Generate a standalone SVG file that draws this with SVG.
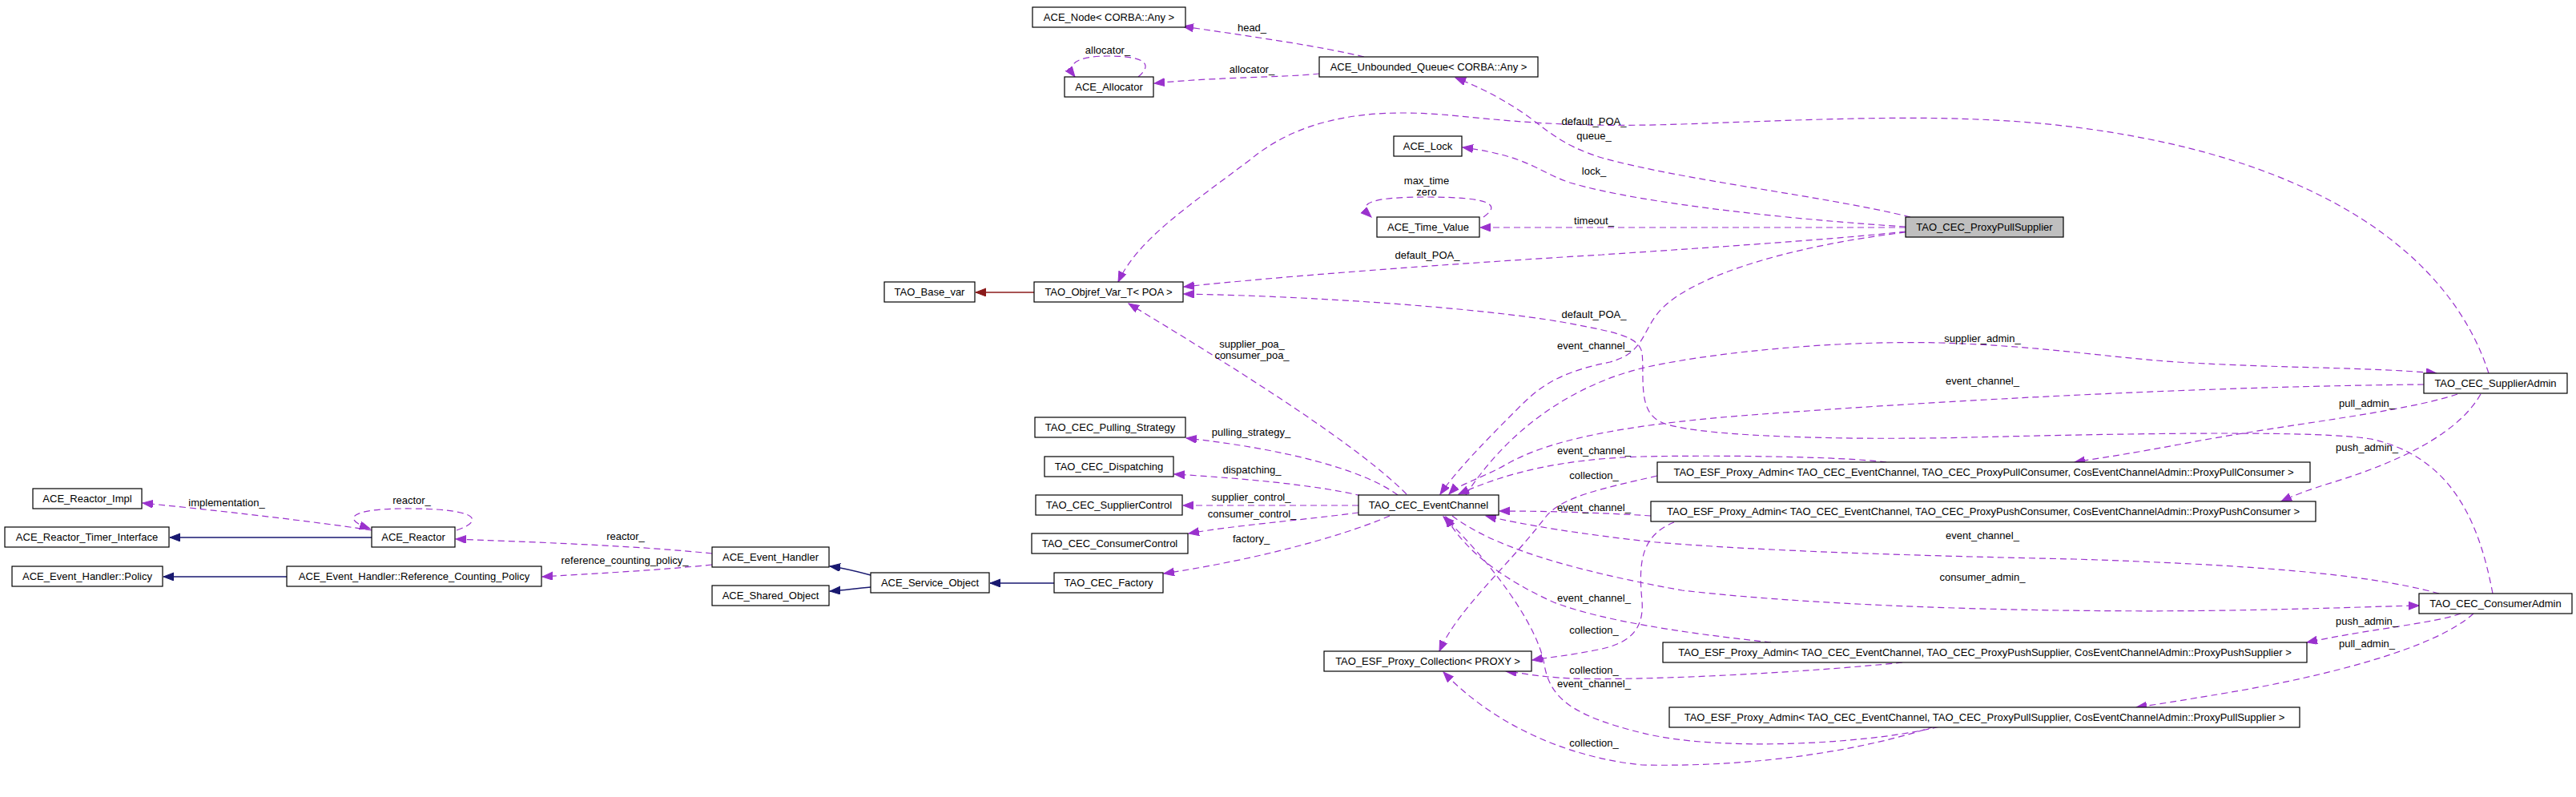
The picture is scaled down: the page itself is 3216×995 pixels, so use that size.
<svg xmlns="http://www.w3.org/2000/svg" width="3216" height="995" viewBox="0 0 3216 995">
<style>
.n rect{fill:#fff;stroke:#000;stroke-width:1.2}
.n.f rect{fill:#bfbfbf}
text{font-family:"Liberation Sans",Arial,Helvetica,sans-serif;font-size:13px;fill:#000}
.n text{text-anchor:middle}
.l text{text-anchor:middle}
.e path{fill:none;stroke:#9a32cd;stroke-width:1.2;stroke-dasharray:8,5}
.e path.u{marker-end:url(#ap)}
.inh path{fill:none;stroke:#191970;stroke-width:1.5;marker-end:url(#an)}
.tpl path{fill:none;stroke:#8b1a1a;stroke-width:1.5;marker-end:url(#ar)}
</style>
<defs>
<marker id="ap" markerUnits="userSpaceOnUse" markerWidth="14" markerHeight="11" refX="13" refY="5" orient="auto"><path d="M0,0 L13,5 L0,10 z" fill="#9a32cd" stroke="#9a32cd" stroke-width="1"/></marker>
<marker id="an" markerUnits="userSpaceOnUse" markerWidth="14" markerHeight="11" refX="13" refY="5" orient="auto"><path d="M0,0 L13,5 L0,10 z" fill="#191970" stroke="#191970" stroke-width="1"/></marker>
<marker id="ar" markerUnits="userSpaceOnUse" markerWidth="14" markerHeight="11" refX="13" refY="5" orient="auto"><path d="M0,0 L13,5 L0,10 z" fill="#8b1a1a" stroke="#8b1a1a" stroke-width="1"/></marker>
</defs>
<rect width="3216" height="995" fill="#fff"/>

<g id="connectors">
<g class="inh">
<path d="M464,671 L212,671"/>
<path d="M358,720 L204,720"/>
<path d="M1087,718 C1065,712 1052,709 1036,707"/>
<path d="M1087,733 C1065,735 1052,737 1036,738"/>
<path d="M1316,728 L1236,728"/>
</g>
<g class="tpl">
<path d="M1291,365 L1218,365"/>
</g>
<g class="e">
<path class="u" d="M1703,71 C1650,58 1560,45 1477,33"/>
<path class="u" d="M1647,92 C1600,97 1520,96 1441,104"/>
<path class="u" d="M1421,96 C1440,80 1430,70 1383,70 C1345,70 1330,80 1342,96"/>
<path class="u" d="M2385,271 C2280,245 2100,225 2000,197 C1945,180 1930,160 1900,140 C1870,120 1845,108 1817,97"/>
<path class="u" d="M2379,283 C2250,275 2050,255 1960,228 C1920,215 1910,195 1826,184"/>
<path class="u" d="M2379,284 L1848,284"/>
<path class="u" d="M1852,271 C1875,255 1860,246 1781,246 C1705,246 1695,255 1712,271"/>
<path class="u" d="M2379,289 C2300,298 2150,308 2000,318 C1800,330 1600,345 1478,358"/>
<path class="u" d="M3107,466 C3060,320 2900,200 2600,160 C2450,140 2300,148 2100,155 C1950,160 1880,150 1800,143 C1700,135 1620,150 1560,200 C1480,260 1420,300 1396,352"/>
<path class="u" d="M1756,617 C1700,560 1560,470 1409,379"/>
<path class="u" d="M2379,290 C2250,305 2120,340 2075,385 C2050,410 2055,440 2010,452 C1960,462 1930,475 1900,505 C1860,545 1820,585 1798,617"/>
<path class="u" d="M3112,741 C3095,650 3060,570 2960,548 C2900,538 2700,540 2460,546 C2300,550 2100,545 2070,525 C2045,510 2053,470 2050,440 C2045,420 2020,415 1950,402 C1850,385 1650,370 1478,367"/>
<path class="u" d="M1830,618 C1880,540 1960,480 2057,458 C2150,438 2300,425 2422,428 C2550,432 2620,445 2718,452 C2850,460 2950,458 3042,466"/>
<path class="u" d="M3026,480 C2800,482 2500,495 2200,517 C2050,528 1940,545 1880,580 C1850,597 1820,605 1809,617"/>
<path class="u" d="M2355,577 C2300,570 2150,568 2050,570 C1950,573 1880,590 1821,617"/>
<path class="u" d="M2069,594 C2000,610 1950,620 1930,645 C1880,710 1820,760 1797,813"/>
<path class="u" d="M2061,644 C2000,640 1930,638 1872,638"/>
<path class="u" d="M2090,652 C2050,668 2045,700 2050,750 C2053,790 2030,805 1990,812 C1960,818 1940,820 1913,824"/>
<path class="u" d="M3045,741 C2950,715 2800,705 2590,698 C2400,694 2200,688 2068,677 C1980,668 1900,655 1855,644"/>
<path class="u" d="M1813,644 C1860,680 1950,710 2100,737 C2300,760 2600,765 2783,762 C2900,760 2970,757 3020,756"/>
<path class="u" d="M2211,802 C2100,790 2000,775 1940,752 C1880,725 1830,690 1805,645"/>
<path class="u" d="M2433,904 C2350,928 2150,940 2050,915 C1960,893 1935,870 1928,830 C1920,780 1860,700 1802,645"/>
<path class="u" d="M2375,827 C2250,840 2050,850 1961,847 C1920,845 1900,840 1880,838"/>
<path class="u" d="M2415,907 C2330,935 2200,958 2050,955 C1950,945 1860,900 1802,839"/>
<path class="u" d="M3068,492 C3000,515 2850,530 2720,555 C2650,568 2620,572 2590,577"/>
<path class="u" d="M3097,492 C3070,540 3000,575 2913,602 C2880,612 2865,618 2848,626"/>
<path class="u" d="M3072,766 C3040,778 2960,785 2880,802"/>
<path class="u" d="M3088,766 C3040,810 2900,845 2780,865 C2720,875 2690,880 2667,883"/>
<path class="u" d="M1745,618 C1700,585 1600,560 1481,547"/>
<path class="u" d="M1700,619 C1640,605 1550,597 1466,592"/>
<path class="u" d="M1696,631 L1477,631"/>
<path class="u" d="M1696,640 C1620,650 1540,656 1484,666"/>
<path class="u" d="M1735,644 C1670,672 1560,700 1453,716"/>
<path class="u" d="M464,662 C420,655 300,640 178,628"/>
<path class="u" d="M570,662 C600,652 605,636 516,635 C435,634 425,648 462,660"/>
<path class="u" d="M889,691 C800,682 700,678 569,673"/>
<path class="u" d="M889,705 C820,712 760,715 677,720"/>
</g>
<g class="l">
<text x="1563" y="39">head_</text>
<text x="1383" y="67">allocator_</text>
<text x="1563" y="91">allocator_</text>
<text x="1990" y="156">default_POA_</text>
<text x="1990" y="174">queue_</text>
<text x="1990" y="218">lock_</text>
<text x="1781" y="230">max_time</text>
<text x="1781" y="244">zero</text>
<text x="1990" y="280">timeout_</text>
<text x="1782" y="323">default_POA_</text>
<text x="1990" y="397">default_POA_</text>
<text x="1990" y="436">event_channel_</text>
<text x="1563" y="434">supplier_poa_</text>
<text x="1563" y="448">consumer_poa_</text>
<text x="2475" y="427">supplier_admin_</text>
<text x="2475" y="480">event_channel_</text>
<text x="2955" y="508">pull_admin_</text>
<text x="2955" y="563">push_admin_</text>
<text x="1562" y="544">pulling_strategy_</text>
<text x="1563" y="591">dispatching_</text>
<text x="1562" y="625">supplier_control_</text>
<text x="1563" y="646">consumer_control_</text>
<text x="1562" y="677">factory_</text>
<text x="1990" y="567">event_channel_</text>
<text x="1990" y="598">collection_</text>
<text x="1990" y="638">event_channel_</text>
<text x="2475" y="673">event_channel_</text>
<text x="2475" y="725">consumer_admin_</text>
<text x="2955" y="780">push_admin_</text>
<text x="2955" y="808">pull_admin_</text>
<text x="1990" y="751">event_channel_</text>
<text x="1990" y="791">collection_</text>
<text x="1990" y="841">collection_</text>
<text x="1990" y="858">event_channel_</text>
<text x="1990" y="932">collection_</text>
<text x="283" y="632">implementation_</text>
<text x="514" y="629">reactor_</text>
<text x="781" y="674">reactor_</text>
<text x="780" y="704">reference_counting_policy_</text>
</g>
</g>

<g id="n_node" class="n"><rect x="1289" y="9" width="191" height="25"/><text x="1384.5" y="26">ACE_Node&lt; CORBA::Any &gt;</text></g>
<g id="n_alloc" class="n"><rect x="1329" y="96" width="111" height="25"/><text x="1384.5" y="113">ACE_Allocator</text></g>
<g id="n_queue" class="n"><rect x="1647" y="71" width="273" height="25"/><text x="1783.5" y="88">ACE_Unbounded_Queue&lt; CORBA::Any &gt;</text></g>
<g id="n_lock" class="n"><rect x="1740" y="170" width="85" height="25"/><text x="1782.5" y="187">ACE_Lock</text></g>
<g id="n_time" class="n"><rect x="1719" y="271" width="128" height="25"/><text x="1783" y="288">ACE_Time_Value</text></g>
<g id="n_pps" class="n f"><rect x="2379" y="271" width="197" height="25"/><text x="2477.5" y="288">TAO_CEC_ProxyPullSupplier</text></g>
<g id="n_basevar" class="n"><rect x="1104" y="352" width="113" height="25"/><text x="1160.5" y="369">TAO_Base_var</text></g>
<g id="n_objref" class="n"><rect x="1291" y="352" width="186" height="25"/><text x="1384" y="369">TAO_Objref_Var_T&lt; POA &gt;</text></g>
<g id="n_pull" class="n"><rect x="1292" y="521" width="188" height="25"/><text x="1386" y="538">TAO_CEC_Pulling_Strategy</text></g>
<g id="n_disp" class="n"><rect x="1304" y="570" width="161" height="25"/><text x="1384.5" y="587">TAO_CEC_Dispatching</text></g>
<g id="n_supctl" class="n"><rect x="1293" y="618" width="183" height="25"/><text x="1384.5" y="635">TAO_CEC_SupplierControl</text></g>
<g id="n_conctl" class="n"><rect x="1288" y="666" width="195" height="25"/><text x="1385.5" y="683">TAO_CEC_ConsumerControl</text></g>
<g id="n_factory" class="n"><rect x="1316" y="715" width="136" height="25"/><text x="1384" y="732">TAO_CEC_Factory</text></g>
<g id="n_ec" class="n"><rect x="1696" y="618" width="175" height="25"/><text x="1783.5" y="635">TAO_CEC_EventChannel</text></g>
<g id="n_impl" class="n"><rect x="41" y="610" width="136" height="25"/><text x="109" y="627">ACE_Reactor_Impl</text></g>
<g id="n_timer" class="n"><rect x="6" y="658" width="205" height="25"/><text x="108.5" y="675">ACE_Reactor_Timer_Interface</text></g>
<g id="n_policy" class="n"><rect x="15" y="707" width="188" height="25"/><text x="109" y="724">ACE_Event_Handler::Policy</text></g>
<g id="n_reactor" class="n"><rect x="464" y="658" width="104" height="25"/><text x="516" y="675">ACE_Reactor</text></g>
<g id="n_rcp" class="n"><rect x="358" y="707" width="318" height="25"/><text x="517" y="724">ACE_Event_Handler::Reference_Counting_Policy</text></g>
<g id="n_eh" class="n"><rect x="889" y="683" width="146" height="25"/><text x="962" y="700">ACE_Event_Handler</text></g>
<g id="n_shared" class="n"><rect x="889" y="731" width="146" height="25"/><text x="962" y="748">ACE_Shared_Object</text></g>
<g id="n_svc" class="n"><rect x="1087" y="715" width="148" height="25"/><text x="1161" y="732">ACE_Service_Object</text></g>
<g id="n_coll" class="n"><rect x="1653" y="813" width="259" height="25"/><text x="1782.5" y="830">TAO_ESF_Proxy_Collection&lt; PROXY &gt;</text></g>
<g id="n_sa" class="n"><rect x="3026" y="466" width="179" height="25"/><text x="3115.5" y="483">TAO_CEC_SupplierAdmin</text></g>
<g id="n_ca" class="n"><rect x="3020" y="741" width="191" height="25"/><text x="3115.5" y="758">TAO_CEC_ConsumerAdmin</text></g>
<g id="n_apc" class="n"><rect x="2069" y="577" width="815" height="25"/><text x="2476.5" y="594">TAO_ESF_Proxy_Admin&lt; TAO_CEC_EventChannel, TAO_CEC_ProxyPullConsumer, CosEventChannelAdmin::ProxyPullConsumer &gt;</text></g>
<g id="n_apshc" class="n"><rect x="2061" y="626" width="830" height="25"/><text x="2476" y="643">TAO_ESF_Proxy_Admin&lt; TAO_CEC_EventChannel, TAO_CEC_ProxyPushConsumer, CosEventChannelAdmin::ProxyPushConsumer &gt;</text></g>
<g id="n_apshs" class="n"><rect x="2076" y="802" width="804" height="25"/><text x="2478" y="819">TAO_ESF_Proxy_Admin&lt; TAO_CEC_EventChannel, TAO_CEC_ProxyPushSupplier, CosEventChannelAdmin::ProxyPushSupplier &gt;</text></g>
<g id="n_apls" class="n"><rect x="2084" y="883" width="787" height="25"/><text x="2477.5" y="900">TAO_ESF_Proxy_Admin&lt; TAO_CEC_EventChannel, TAO_CEC_ProxyPullSupplier, CosEventChannelAdmin::ProxyPullSupplier &gt;</text></g>
</svg>
